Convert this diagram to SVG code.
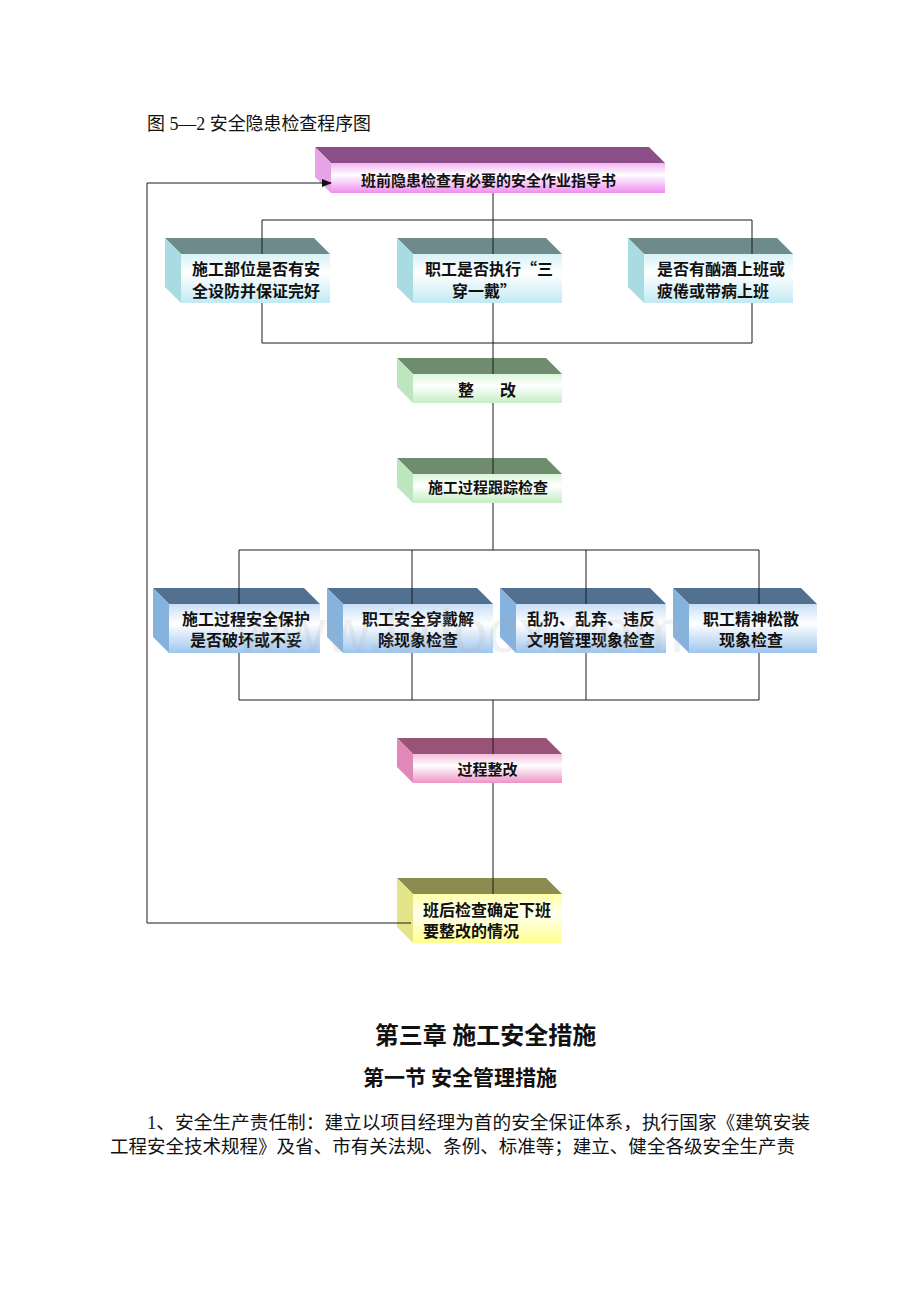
<svg xmlns="http://www.w3.org/2000/svg" width="920" height="1302" viewBox="0 0 920 1302">
<defs>
<linearGradient id="gPurple" x1="0" y1="0" x2="0" y2="1"><stop offset="0" stop-color="#F2B4F2"/><stop offset="0.4" stop-color="#FFFFFF"/><stop offset="1" stop-color="#F08CF0"/></linearGradient>
<linearGradient id="gTeal" x1="0" y1="0" x2="0" y2="1"><stop offset="0" stop-color="#D8F2F6"/><stop offset="0.4" stop-color="#FFFFFF"/><stop offset="1" stop-color="#C2EAF2"/></linearGradient>
<linearGradient id="gGreen" x1="0" y1="0" x2="0" y2="1"><stop offset="0" stop-color="#D8F6D8"/><stop offset="0.4" stop-color="#FFFFFF"/><stop offset="1" stop-color="#C4EEC4"/></linearGradient>
<linearGradient id="gBlue" x1="0" y1="0" x2="0" y2="1"><stop offset="0" stop-color="#C8DEF6"/><stop offset="0.4" stop-color="#FFFFFF"/><stop offset="1" stop-color="#9EC6EE"/></linearGradient>
<linearGradient id="gPink" x1="0" y1="0" x2="0" y2="1"><stop offset="0" stop-color="#F4BCDC"/><stop offset="0.4" stop-color="#FFFFFF"/><stop offset="1" stop-color="#EE94C6"/></linearGradient>
<linearGradient id="gYellow" x1="0" y1="0" x2="0" y2="1"><stop offset="0" stop-color="#FFFFA8"/><stop offset="0.4" stop-color="#FFFFF0"/><stop offset="1" stop-color="#FFFF90"/></linearGradient>
<marker id="arrow" markerWidth="10" markerHeight="8" refX="9" refY="4" orient="auto" markerUnits="userSpaceOnUse"><path d="M0,0 L10,4 L0,8 Z" fill="#111"/></marker>
</defs>
<style>
.t-purple{fill:#8C4E88}.s-purple{fill:#E8A2E8}
.t-teal{fill:#6E8A8A}.s-teal{fill:#A8DCE2}
.t-green{fill:#6F8C6F}.s-green{fill:#BEE6BE}
.t-blue{fill:#52708F}.s-blue{fill:#86B2DE}
.t-pink{fill:#985476}.s-pink{fill:#E288B8}
.t-yellow{fill:#8C8C52}.s-yellow{fill:#E4E488}
.lbl{font-family:"Noto Sans CJK SC","Noto Sans",sans-serif;font-weight:bold;fill:#111;font-size:16px}
.lbl15{font-size:15px}
.mid{text-anchor:middle}
.body{font-family:"Liberation Serif","Noto Sans CJK SC",serif;fill:#111}
.head{font-family:"Noto Sans CJK SC","Noto Sans",sans-serif;font-weight:bold;fill:#111;text-anchor:middle}
.conn{fill:none;stroke:#1a1a1a;stroke-width:1}
</style>
<rect width="920" height="1302" fill="#FFFFFF"/>
<text class="body" x="147" y="130" font-size="18" textLength="224" lengthAdjust="spacingAndGlyphs">图 5—2 安全隐患检查程序图</text>

<g id="n-top">
<polygon class="t-purple" points="315,147 649,147 665,163 331,163"/>
<polygon class="s-purple" points="315,147 331,163 331,193 315,177"/>
<rect x="331" y="163" width="334" height="30" fill="url(#gPurple)"/>
<text class="lbl lbl15 mid" x="488.5" y="186">班前隐患检查有必要的安全作业指导书</text>
</g>

<g id="n-r1a">
<polygon class="t-teal" points="165,238 314,238 330,254 181,254"/>
<polygon class="s-teal" points="165,238 181,254 181,303 165,287"/>
<rect x="181" y="254" width="149" height="49" fill="url(#gTeal)"/>
<text class="lbl" x="192" y="275">施工部位是否有安</text>
<text class="lbl" x="192" y="297">全设防并保证完好</text>
</g>
<g id="n-r1b">
<polygon class="t-teal" points="397,238 546,238 562,254 413,254"/>
<polygon class="s-teal" points="397,238 413,254 413,303 397,287"/>
<rect x="413" y="254" width="149" height="49" fill="url(#gTeal)"/>
<text class="lbl" x="425" y="275">职工是否执行“三</text>
<text class="lbl" x="452" y="297">穿一戴”</text>
</g>
<g id="n-r1c">
<polygon class="t-teal" points="628,238 777,238 793,254 644,254"/>
<polygon class="s-teal" points="628,238 644,254 644,303 628,287"/>
<rect x="644" y="254" width="149" height="49" fill="url(#gTeal)"/>
<text class="lbl" x="657" y="275">是否有酗酒上班或</text>
<text class="lbl" x="657" y="297">疲倦或带病上班</text>
</g>

<g id="n-fix">
<polygon class="t-green" points="397,358 546,358 562,374 413,374"/>
<polygon class="s-green" points="397,358 413,374 413,403 397,387"/>
<rect x="413" y="374" width="149" height="29" fill="url(#gGreen)"/>
<text class="lbl"><tspan x="458" y="396">整</tspan><tspan x="500" y="396">改</tspan></text>
</g>

<g id="n-track">
<polygon class="t-green" points="397,458 546,458 562,474 413,474"/>
<polygon class="s-green" points="397,458 413,474 413,503 397,487"/>
<rect x="413" y="474" width="149" height="29" fill="url(#gGreen)"/>
<text class="lbl lbl15 mid" x="488" y="493">施工过程跟踪检查</text>
</g>

<g id="n-r2a">
<polygon class="t-blue" points="153,588 304,588 320,604 169,604"/>
<polygon class="s-blue" points="153,588 169,604 169,653 153,637"/>
<rect x="169" y="604" width="151" height="49" fill="url(#gBlue)"/>
<text class="lbl mid" x="246" y="625">施工过程安全保护</text>
<text class="lbl mid" x="246" y="646">是否破坏或不妥</text>
</g>
<g id="n-r2b">
<polygon class="t-blue" points="327,588 477,588 493,604 343,604"/>
<polygon class="s-blue" points="327,588 343,604 343,653 327,637"/>
<rect x="343" y="604" width="150" height="49" fill="url(#gBlue)"/>
<text class="lbl mid" x="418" y="625">职工安全穿戴解</text>
<text class="lbl mid" x="418" y="646">除现象检查</text>
</g>
<g id="n-r2c">
<polygon class="t-blue" points="500,588 650,588 666,604 516,604"/>
<polygon class="s-blue" points="500,588 516,604 516,653 500,637"/>
<rect x="516" y="604" width="150" height="49" fill="url(#gBlue)"/>
<text class="lbl mid" x="591" y="625">乱扔、乱弃、违反</text>
<text class="lbl mid" x="591" y="646">文明管理现象检查</text>
</g>
<g id="n-r2d">
<polygon class="t-blue" points="673,588 801,588 817,604 689,604"/>
<polygon class="s-blue" points="673,588 689,604 689,653 673,637"/>
<rect x="689" y="604" width="128" height="49" fill="url(#gBlue)"/>
<text class="lbl mid" x="751" y="625">职工精神松散</text>
<text class="lbl mid" x="751" y="646">现象检查</text>
</g>

<g id="n-procfix">
<polygon class="t-pink" points="397,738 546,738 562,754 413,754"/>
<polygon class="s-pink" points="397,738 413,754 413,783 397,767"/>
<rect x="413" y="754" width="149" height="29" fill="url(#gPink)"/>
<text class="lbl lbl15 mid" x="487.5" y="775">过程整改</text>
</g>

<g id="n-after">
<polygon class="t-yellow" points="397,878 546,878 562,894 413,894"/>
<polygon class="s-yellow" points="397,878 413,894 413,943 397,927"/>
<rect x="413" y="894" width="149" height="49" fill="url(#gYellow)"/>
<text class="lbl" x="423" y="916">班后检查确定下班</text>
<text class="lbl" x="423" y="937">要整改的情况</text>
</g>

<g id="connectors" class="conn">
<path class="conn" d="M493,193 V254"/>
<path class="conn" d="M262,220 H752"/>
<path class="conn" d="M262,220 V254 M752,220 V254"/>
<path class="conn" d="M262,303 V343 H752 V303 M493,303 V374"/>
<path class="conn" d="M493,403 V474"/>
<path class="conn" d="M493,503 V550"/>
<path class="conn" d="M239,550 H759"/>
<path class="conn" d="M239,550 V604 M412,550 V604 M586,550 V604 M759,550 V604"/>
<path class="conn" d="M239,653 V700 H759 V653 M412,653 V700 M586,653 V700"/>
<path class="conn" d="M493,700 V754"/>
<path class="conn" d="M493,783 V894"/>
<path class="conn" d="M411,923 H147 V183 H331" marker-end="url(#arrow)"/>
</g>

<text x="460" y="652" font-family="Liberation Sans, sans-serif" font-size="62" fill="#B0B0B0" fill-opacity="0.18" text-anchor="middle">www.bdocx.com</text>

<text class="head" x="485.5" y="1044" font-size="24">第三章 施工安全措施</text>
<text class="head" x="460" y="1085" font-size="21">第一节 安全管理措施</text>
<text class="body" x="147" y="1129" font-size="18.5" textLength="663" lengthAdjust="spacingAndGlyphs">1、安全生产责任制：建立以项目经理为首的安全保证体系，执行国家《建筑安装</text>
<text class="body" x="110" y="1153" font-size="18.5" textLength="685" lengthAdjust="spacingAndGlyphs">工程安全技术规程》及省、市有关法规、条例、标准等；建立、健全各级安全生产责</text>
</svg>
